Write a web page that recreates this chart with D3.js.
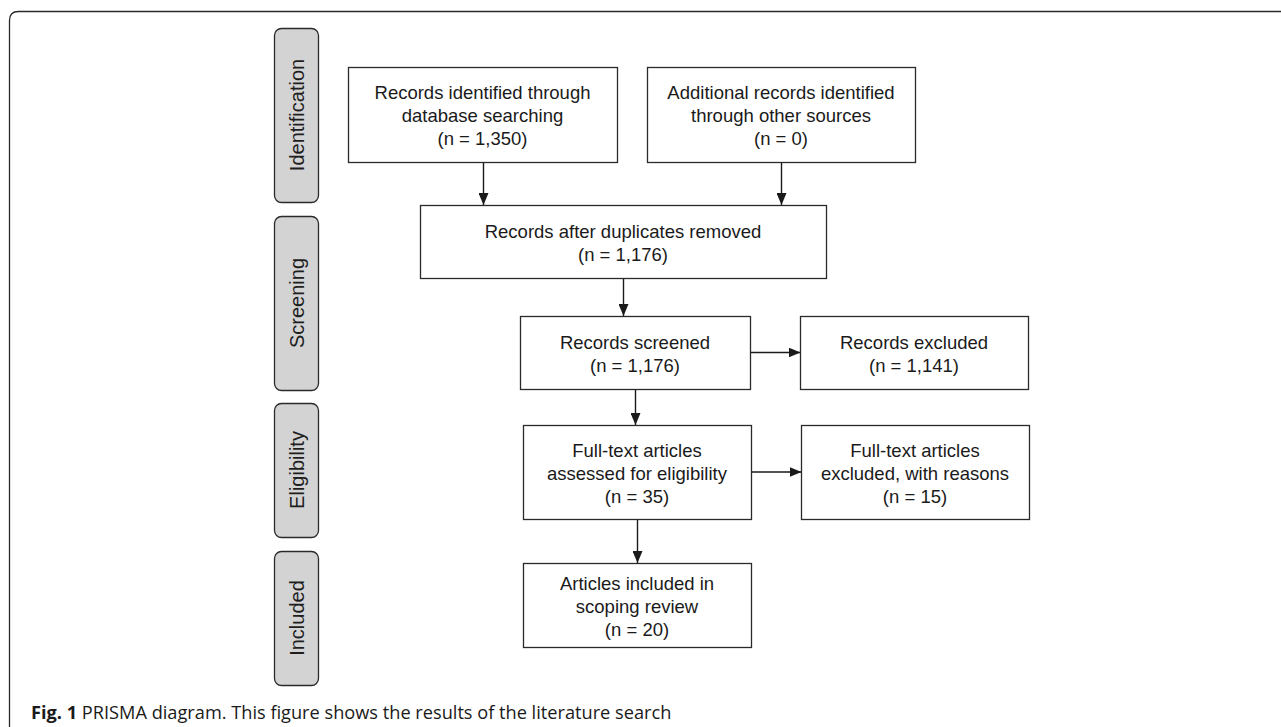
<!DOCTYPE html>
<html>
<head>
<meta charset="utf-8">
<script src="https://cdn.jsdelivr.net/npm/d3@7"></script>
<style>
  body { margin: 0; background: #fff; }
  svg { display: block; }
</style>
</head>
<body>
<div id="chart"></div>
<script>
// stages down the left side
const stages = ["Identification", "Screening", "Eligibility", "Included"];

// flow boxes: label lines and counts
const boxIds = ["db", "other", "dedup", "screened", "excluded", "fulltext", "ftExcluded", "included"];
const boxLines = [
  ["Records identified through", "database searching"],
  ["Additional records identified", "through other sources"],
  ["Records after duplicates removed"],
  ["Records screened"],
  ["Records excluded"],
  ["Full-text articles", "assessed for eligibility"],
  ["Full-text articles", "excluded, with reasons"],
  ["Articles included in", "scoping review"]
];
const boxCounts = [1350, 0, 1176, 1176, 1141, 35, 15, 20];

// arrows between boxes
const links = [
  ["db", "dedup"], ["other", "dedup"], ["dedup", "screened"],
  ["screened", "excluded"], ["screened", "fulltext"],
  ["fulltext", "ftExcluded"], ["fulltext", "included"]
];

const captionBold = "Fig. 1";
const captionText = " PRISMA diagram. This figure shows the results of the literature search";

// layout (pixels)
const w = 1281, h = 727;
const stageX = [274, 318];
const stageY = [[28, 202], [216, 390], [403, 537], [551, 685]];
const boxPos = {
  db:         [348, 67, 617, 162],
  other:      [647, 67, 915, 162],
  dedup:      [420, 205, 826, 278],
  screened:   [520, 316, 750, 389],
  excluded:   [800, 316, 1028, 389],
  fulltext:   [523, 425, 751, 519],
  ftExcluded: [801, 425, 1029, 519],
  included:   [523, 563, 751, 647]
};
const lineH = 23;

const fmt = d3.format(",");
const boxes = boxIds.map((id, i) => {
  const p = boxPos[id];
  return { id, x0: p[0], y0: p[1], x1: p[2], y1: p[3],
    lines: boxLines[i].concat(["(n = " + fmt(boxCounts[i]) + ")"]) };
});
const byId = {};
boxes.forEach(b => byId[b.id] = b);

const svg = d3.select("#chart").append("svg")
  .attr("width", w)
  .attr("height", h);

svg.append("defs").append("marker")
  .attr("id", "arrow")
  .attr("viewBox", "0 0 12 10")
  .attr("refX", 12)
  .attr("refY", 5)
  .attr("markerWidth", 12)
  .attr("markerHeight", 10)
  .attr("markerUnits", "userSpaceOnUse")
  .attr("orient", "auto")
  .append("path")
  .attr("d", "M0,0 L12,5 L0,10 Z")
  .attr("fill", "#1a1a1a");

// outer frame, open to the right and bottom
svg.append("path")
  .attr("d", "M9.5," + (h + 5) + " L9.5,20.5 Q9.5,11.5 18.5,11.5 L" + (w + 5) + ",11.5")
  .attr("fill", "none")
  .attr("stroke", "#2a2a2a")
  .attr("stroke-width", 1.3);

// stage pills
const stageG = svg.selectAll("g.stage")
  .data(stages)
  .enter()
  .append("g")
  .attr("class", "stage");

stageG.append("rect")
  .attr("x", stageX[0] + 0.5)
  .attr("y", (d, i) => stageY[i][0] + 0.5)
  .attr("width", stageX[1] - stageX[0])
  .attr("height", (d, i) => stageY[i][1] - stageY[i][0])
  .attr("rx", 7)
  .attr("fill", "#d3d3d3")
  .attr("stroke", "#2a2a2a")
  .attr("stroke-width", 1.3);

stageG.append("text")
  .attr("transform", (d, i) => "translate(" + ((stageX[0] + stageX[1]) / 2 + 0.5) + "," + ((stageY[i][0] + stageY[i][1]) / 2) + ") rotate(-90)")
  .attr("text-anchor", "middle")
  .attr("dominant-baseline", "central")
  .attr("font-family", "'Liberation Sans', Arial, sans-serif")
  .attr("font-size", 20)
  .attr("fill", "#1e1e1e")
  .text(d => d);

// arrows
const linkPts = links.map(([a, b]) => {
  const s = byId[a], t = byId[b];
  if (t.x0 >= s.x1) {
    const y = (s.y0 + s.y1) / 2;
    return [[s.x1, y], [t.x0, y]];
  }
  // vertical arrows drop straight down from the source centre
  const sx = (s.x0 + s.x1) / 2;
  return [[sx, s.y1], [sx, t.y0]];
});

svg.selectAll("line.link")
  .data(linkPts)
  .enter()
  .append("line")
  .attr("class", "link")
  .attr("x1", d => Math.round(d[0][0]) + 0.5)
  .attr("y1", d => d[0][1])
  .attr("x2", d => Math.round(d[1][0]) + 0.5)
  .attr("y2", d => d[1][1])
  .attr("stroke", "#1a1a1a")
  .attr("stroke-width", 1.4)
  .attr("marker-end", "url(#arrow)");

// boxes
const boxG = svg.selectAll("g.box")
  .data(boxes)
  .enter()
  .append("g")
  .attr("class", "box");

boxG.append("rect")
  .attr("x", d => d.x0 + 0.5)
  .attr("y", d => d.y0 + 0.5)
  .attr("width", d => d.x1 - d.x0)
  .attr("height", d => d.y1 - d.y0)
  .attr("fill", "#fff")
  .attr("stroke", "#2a2a2a")
  .attr("stroke-width", 1.3);

boxG.each(function(d) {
  const cx = (d.x0 + d.x1) / 2;
  const cy = (d.y0 + d.y1) / 2 + 1;
  const n = d.lines.length;
  d3.select(this).selectAll("text")
    .data(d.lines)
    .enter()
    .append("text")
    .attr("x", cx)
    .attr("y", (t, i) => cy + (i - (n - 1) / 2) * lineH)
    .attr("text-anchor", "middle")
    .attr("dominant-baseline", "central")
    .attr("font-family", "'Liberation Sans', Arial, sans-serif")
    .attr("font-size", 18.5)
    .attr("fill", "#1a1a1a")
    .text(t => t);
});

// caption
const cap = svg.append("text")
  .attr("x", 31)
  .attr("y", 719)
  .attr("font-family", "'Open Sans', sans-serif")
  .attr("font-size", 18.2)
  .attr("fill", "#1a1a1a");
cap.append("tspan").attr("font-weight", "bold").text(captionBold);
cap.append("tspan").text(captionText);
</script>
</body>
</html>
